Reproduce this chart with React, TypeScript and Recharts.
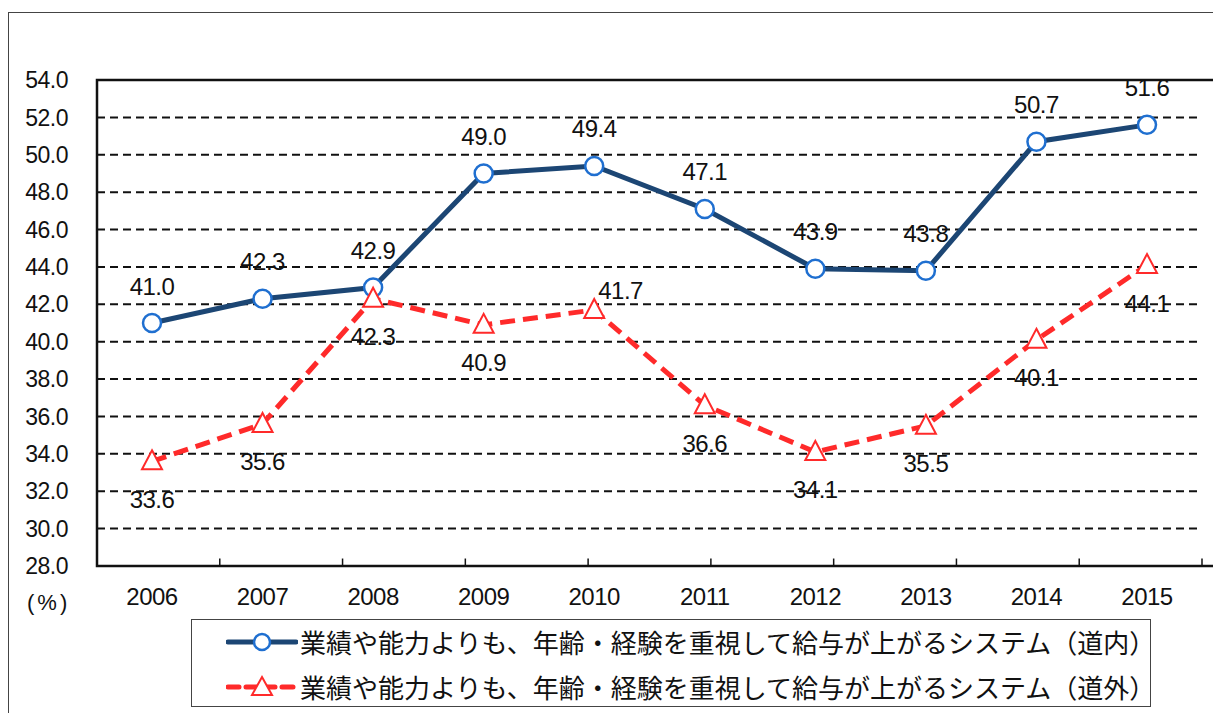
import React from "react";
import {
  LineChart,
  Line,
  XAxis,
  YAxis,
  CartesianGrid,
  ReferenceArea,
  ReferenceLine,
  LabelList,
} from "recharts";

const years = ["2006", "2007", "2008", "2009", "2010", "2011", "2012", "2013", "2014", "2015"];
const dounai = [41.0, 42.3, 42.9, 49.0, 49.4, 47.1, 43.9, 43.8, 50.7, 51.6];
const dougai = [33.6, 35.6, 42.3, 40.9, 41.7, 36.6, 34.1, 35.5, 40.1, 44.1];
const yTicks = [28, 30, 32, 34, 36, 38, 40, 42, 44, 46, 48, 50, 52, 54];
const boundaryTicks = [1, 2, 3, 4, 5, 6, 7, 8, 9];

const legendNai = "業績や能力よりも、年齢・経験を重視して給与が上がるシステム（道内）";
const legendGai = "業績や能力よりも、年齢・経験を重視して給与が上がるシステム（道外）";

const data = years.map((year, i) => ({ year, dounai: dounai[i], dougai: dougai[i] }));

const NAVY = "#1c4674";
const BLUE = "#1f6fd0";
const RED = "#ff2a2a";
const FONT = "'Liberation Sans', Arial, sans-serif";
const JP = "'Noto Sans CJK JP', sans-serif";

const TriangleDot = (props: any) => {
  const { cx, cy, index } = props;
  if (cx == null || cy == null) return null;
  return (
    <path
      key={"tri-" + index}
      d={`M${cx},${cy - 11} L${cx + 10},${cy + 8} L${cx - 10},${cy + 8} Z`}
      fill="#fff"
      stroke={RED}
      strokeWidth={2}
    />
  );
};

const NaiLabel = (props: any) => {
  const { x, y, value } = props;
  return (
    <text x={x} y={y - 37} textAnchor="middle" dominantBaseline="central" fontSize={24} letterSpacing={-0.5} fontFamily={FONT} fill="#111">
      {Number(value).toFixed(1)}
    </text>
  );
};

const GaiLabel = (props: any) => {
  const { x, y, value, index } = props;
  // 2010 label sits up and to the right of its marker
  if (index === 4) {
    return (
      <text x={x + 4} y={y - 19} textAnchor="start" dominantBaseline="central" fontSize={24} letterSpacing={-0.5} fontFamily={FONT} fill="#111">
        {Number(value).toFixed(1)}
      </text>
    );
  }
  return (
    <text x={x} y={y + 38} textAnchor="middle" dominantBaseline="central" fontSize={24} letterSpacing={-0.5} fontFamily={FONT} fill="#111">
      {Number(value).toFixed(1)}
    </text>
  );
};

const LegendBox = () => (
  <div
    style={{
      position: "absolute",
      left: 191,
      top: 619,
      width: 960,
      height: 88,
      border: "1.5px solid #444",
      boxSizing: "border-box",
      background: "#fff",
    }}
  >
    {[
      { text: legendNai, kind: "nai" },
      { text: legendGai, kind: "gai" },
    ].map((row, i) => (
      <div
        key={row.kind}
        style={{ position: "absolute", left: 34, top: i === 0 ? 6 : 51, height: 32, display: "flex", alignItems: "center" }}
      >
        <svg width={72} height={30} style={{ display: "block" }}>
          {row.kind === "nai" ? (
            <>
              <line x1={2} y1={15} x2={70} y2={15} stroke={NAVY} strokeWidth={5} strokeLinecap="round" />
              <circle cx={36} cy={15} r={8} fill="#fff" stroke={BLUE} strokeWidth={2.5} />
            </>
          ) : (
            <>
              <line x1={2} y1={15} x2={70} y2={15} stroke={RED} strokeWidth={5} strokeDasharray="11 7" strokeLinecap="round" />
              <path d="M36,5 L46,23 L26,23 Z" fill="#fff" stroke={RED} strokeWidth={2} />
            </>
          )}
        </svg>
        <span style={{ fontFamily: JP, fontSize: 26, color: "#111", marginLeft: 2, whiteSpace: "nowrap", lineHeight: "30px" }}>
          {row.text}
        </span>
      </div>
    ))}
  </div>
);

export default function App() {
  return (
    <div style={{ position: "absolute", left: 0, top: 0, width: 1213, height: 713, background: "#fff" }}>
      {/* outer frame, cut off at right and bottom */}
      <div
        style={{
          position: "absolute",
          left: 8,
          top: 12,
          width: 1205,
          height: 701,
          borderLeft: "1.5px solid #444",
          borderTop: "1.5px solid #444",
          boxSizing: "border-box",
        }}
      />
      <div style={{ position: "absolute", left: 0, top: 0 }}>
        <LineChart width={1213} height={713} data={data} margin={{ top: 80, right: 11, bottom: 97, left: 0 }}>
          <CartesianGrid vertical={false} stroke="#111" strokeWidth={2} strokeDasharray="8 5" />
          <XAxis
            xAxisId="bt"
            type="number"
            domain={[0, 10]}
            allowDataOverflow
            ticks={boundaryTicks}
            tick={false}
            axisLine={false}
            tickLine={false}
            height={0}
          />
          <XAxis
            dataKey="year"
            padding={{ left: 55, right: 55 }}
            axisLine={false}
            tickLine={false}
            tickSize={0}
            tickMargin={22}
            height={50}
            interval={0}
            tick={{ fontSize: 24, fontFamily: FONT, fill: "#111", letterSpacing: -0.5 }}
          />
          <YAxis
            domain={[28, 54]}
            ticks={yTicks}
            interval={0}
            width={97}
            axisLine={false}
            tickLine={false}
            tickSize={0}
            tickMargin={29}
            tickFormatter={(v: number) => v.toFixed(1)}
            tick={{ fontSize: 23, fontFamily: FONT, fill: "#111", letterSpacing: -0.5 }}
          />
          {boundaryTicks.map((b) => (
            <ReferenceLine
              key={"bt-" + b}
              xAxisId="bt"
              segment={[
                { x: b, y: 28 },
                { x: b, y: 28.4 },
              ]}
              stroke="#111"
              strokeWidth={1.5}
              ifOverflow="visible"
            />
          ))}
          <ReferenceArea
            xAxisId="bt"
            x1={0}
            x2={10}
            y1={28}
            y2={54}
            fill="none"
            stroke="#111"
            strokeWidth={2.5}
            ifOverflow="visible"
          />
          <Line
            dataKey="dounai"
            stroke={NAVY}
            strokeWidth={5}
            dot={{ r: 9, fill: "#fff", stroke: BLUE, strokeWidth: 2.5 }}
            activeDot={false}
            isAnimationActive={false}
          >
            <LabelList dataKey="dounai" content={NaiLabel} />
          </Line>
          <Line
            dataKey="dougai"
            stroke={RED}
            strokeWidth={5}
            strokeDasharray="15 8"
            dot={TriangleDot}
            activeDot={false}
            isAnimationActive={false}
          >
            <LabelList dataKey="dougai" content={GaiLabel} />
          </Line>
        </LineChart>
      </div>
      <div style={{ position: "absolute", left: 27, top: 590, fontFamily: FONT, fontSize: 22, color: "#111", letterSpacing: 3 }}>
        (%)
      </div>
      <LegendBox />
    </div>
  );
}
